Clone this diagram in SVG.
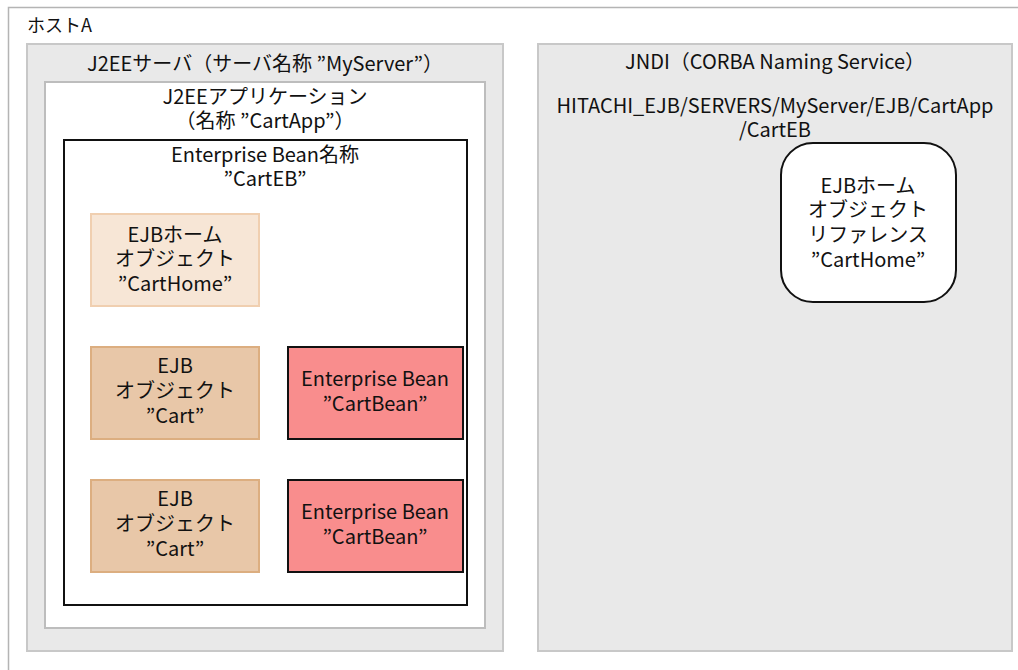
<svg xmlns="http://www.w3.org/2000/svg" width="1018" height="670" viewBox="0 0 1018 670">
<style>
text{font-family:"Noto Sans CJK JP","Noto Sans",sans-serif;font-size:20px;fill:#111;text-anchor:middle}
.l{text-anchor:start;font-size:18px}
.grey{fill:#e9e9e9;stroke:#c8c8c8;stroke-width:2}
.home{fill:#f7e6d6;stroke:#f0cfb0;stroke-width:2}
.obj{fill:#e8c7a8;stroke:#dcae80;stroke-width:2}
.bean{fill:#f98d8d;stroke:#111;stroke-width:2}
</style>
<rect width="1018" height="670" fill="#fff"/>
<g id="hostA">
<rect x="8.5" y="7.5" width="1020" height="680" fill="none" stroke="#b4b4b4" stroke-width="1.5"/>
<text class="l" x="27" y="32">ホストA</text>
</g>
<g id="j2ee-server">
<rect class="grey" x="27" y="44" width="476" height="607"/>
<text x="265" y="71">J2EEサーバ（サーバ名称 ”MyServer”）</text>
</g>
<g id="j2ee-app">
<rect x="45" y="82" width="440" height="546" fill="#fff" stroke="#bdbdbd" stroke-width="2"/>
<text x="265" y="104">J2EEアプリケーション</text>
<text x="265" y="128">（名称 ”CartApp”）</text>
</g>
<g id="eb-name">
<rect x="64" y="140" width="403" height="465" fill="#fff" stroke="#111" stroke-width="2"/>
<text x="265" y="162">Enterprise Bean名称</text>
<text x="265" y="186">”CartEB”</text>
</g>
<g id="ejb-home">
<rect class="home" x="91" y="214" width="168" height="92"/>
<text x="175" y="242">EJBホーム</text>
<text x="175" y="266">オブジェクト</text>
<text x="175" y="291">”CartHome”</text>
</g>
<g id="ejb-object-1">
<rect class="obj" x="91" y="347" width="168" height="92"/>
<text x="175" y="373">EJB</text>
<text x="175" y="398">オブジェクト</text>
<text x="175" y="423">”Cart”</text>
</g>
<g id="bean-1">
<rect class="bean" x="288" y="347" width="175" height="92"/>
<text x="375" y="386">Enterprise Bean</text>
<text x="375" y="411">”CartBean”</text>
</g>
<g id="ejb-object-2">
<rect class="obj" x="91" y="480" width="168" height="92"/>
<text x="175" y="506">EJB</text>
<text x="175" y="531">オブジェクト</text>
<text x="175" y="556">”Cart”</text>
</g>
<g id="bean-2">
<rect class="bean" x="288" y="480" width="175" height="92"/>
<text x="375" y="519">Enterprise Bean</text>
<text x="375" y="544">”CartBean”</text>
</g>
<g id="jndi">
<rect class="grey" x="538" y="44" width="474" height="607"/>
<text x="775" y="69">JNDI（CORBA Naming Service）</text>
<text x="775" y="113">HITACHI_EJB/SERVERS/MyServer/EJB/CartApp</text>
<text x="775" y="137">/CartEB</text>
</g>
<g id="home-ref">
<rect x="781" y="143" width="175" height="159" rx="32" fill="#fff" stroke="#111" stroke-width="2"/>
<text x="868" y="193">EJBホーム</text>
<text x="868" y="217">オブジェクト</text>
<text x="868" y="242">リファレンス</text>
<text x="868" y="267">”CartHome”</text>
</g>
<g id="connectors"/>
</svg>
